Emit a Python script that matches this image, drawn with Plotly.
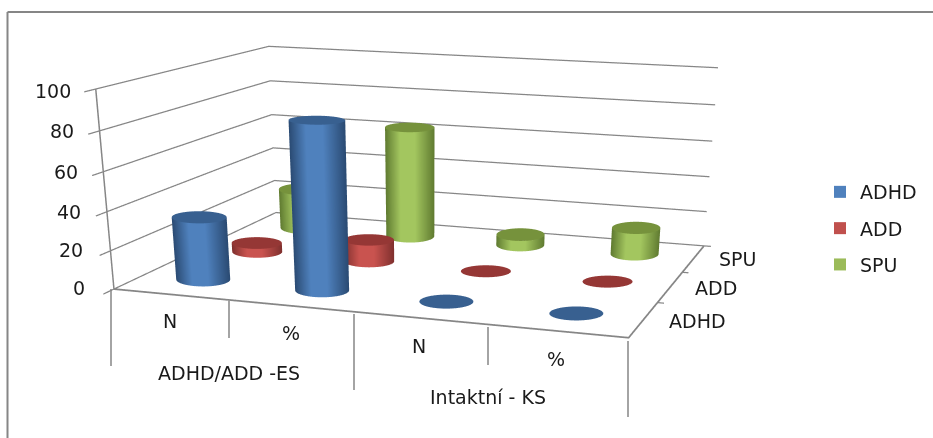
import numpy as np
import plotly.graph_objects as go

categories = ["N", "%", "N", "%"]
groups = ["ADHD/ADD -ES", "Intaktní - KS"]
series_names = ["ADHD", "ADD", "SPU"]
adhd = [33, 86, 0, 0]
add = [5, 12, 0, 0]
spu = [23, 63, 6, 15]
z_ticks = [0, 20, 40, 60, 80, 100]

W, H = 933, 1300

# camera of the 3D box, in box units (box centred on the origin, height 1)
eye = np.array([2.841, -8.355, 1.562])
cen = np.array([-10.961, 36.318, -22.143])
up = np.array([-12.611, 39.995, 1.0])
box = np.array([2.763, 2.112, 1.0])

xr = np.array([-0.5, 3.5]); yr = np.array([-0.5, 2.5]); zr = np.array([0., 100.])
xR = [-0.55, 3.72]; yR = [-0.72, 2.55]; zR = [-1, 101]
def world(x, y, z):
    return np.array([(x-xr[0])/(xr[1]-xr[0])-.5, (y-yr[0])/(yr[1]-yr[0])-.5, (z-zr[0])/(zr[1]-zr[0])-.5])*box
o = world((xR[0]+xR[1])/2, (yR[0]+yR[1])/2, (zR[0]+zR[1])/2)
asp = box*np.array([(xR[1]-xR[0])/4, (yR[1]-yR[0])/3, (zR[1]-zR[0])/100])
ve = eye-o; vc = cen-o

f = cen-eye; f = f/np.linalg.norm(f)
r = np.cross(f, up); r = r/np.linalg.norm(r)
t = np.cross(r, f)
S = H/2/np.tan(np.pi/8)
def screen(x, y, z):
    d = world(x, y, z)-eye
    return np.array([S*(d@r)/(d@f), -S*(d@t)/(d@f)])

fig = go.Figure()
GRID = "#868686"
def line(xs, ys, zs, w=2.5):
    fig.add_trace(go.Scatter3d(x=xs, y=ys, z=zs, mode="lines", line=dict(color=GRID, width=w), showlegend=False, hoverinfo="skip"))
for z in z_ticks:
    line([3.5, -0.5, -0.5, -0.5], [2.5, 2.5, -0.5, -0.66], [z]*4)
line([-0.5, 3.5, 3.5], [-0.5, -0.5, 2.5], [0, 0, 0], 3.5)
line([-0.5, -0.5], [-0.5, -0.5], [0, 100], 3)
for y in (0.5, 1.5):
    line([3.5, 3.55], [y, y], [0, 0])
line([3.5, 3.56], [2.5, 2.5], [0, 0])

colors = {"ADHD": ("#2a4a72", "#4f81bd", "#386090", "#4f81bd"),
          "ADD": ("#7f302e", "#c9534f", "#953735", "#c0504d"),
          "SPU": ("#5f7a30", "#a3c65f", "#76923c", "#9bbb59")}
phi = np.linspace(0, 2*np.pi, 73)
A_PX = {"ADHD": 27, "ADD": 25, "SPU": 24}
B_PX = {"ADHD": 7, "ADD": 6, "SPU": 6.5}
LIT = dict(ambient=1, diffuse=0, specular=0, roughness=1, fresnel=0)
for sidx, (name, vals) in enumerate(zip(series_names, [adhd, add, spu])):
    dark, light, cap, swatch = colors[name]
    scale = [[0, dark], [0.3, light], [0.6, light], [1, dark]]
    fig.add_trace(go.Scatter3d(x=[None], y=[None], z=[None], mode="markers", name=name, legendgroup=name,
        marker=dict(symbol="square", size=12, color=swatch), hoverinfo="skip"))
    for i, v in enumerate(vals):
        # disc footprint: data offsets that draw a level ellipse
        base = screen(i, sidx, 0)
        M = np.c_[(screen(i+.01, sidx, 0)-base)/.01, (screen(i, sidx+.01, 0)-base)/.01]
        off = np.linalg.solve(M, np.vstack([A_PX[name]*np.cos(phi), B_PX[name]*np.sin(phi)]))
        if v > 0:
            X = i+np.outer(off[0], [1, 1]); Y = sidx+np.outer(off[1], [1, 1]); Z = np.outer(np.ones_like(phi), [0, v])
            fig.add_trace(go.Surface(x=X, y=Y, z=Z, surfacecolor=np.outer(np.cos(phi), [1, 1]), colorscale=scale, cmin=-1, cmax=1, showscale=False,
                lighting=LIT, hoverinfo="skip", legendgroup=name, showlegend=False))
        X = i+np.outer(off[0], [0, 1]); Y = sidx+np.outer(off[1], [0, 1]); Z = np.full_like(X, v, dtype=float)
        fig.add_trace(go.Surface(x=X, y=Y, z=Z, surfacecolor=np.zeros_like(X), colorscale=[[0, cap], [1, cap]], showscale=False,
            lighting=LIT, hoverinfo="skip", legendgroup=name, showlegend=False))

def py(y): return 1-y/H
def px(x): return x/W
shapes = [dict(type="line", xref="paper", yref="paper", x0=px(7.5), x1=1, y0=py(12), y1=py(12), line=dict(color=GRID, width=2)),
          dict(type="line", xref="paper", yref="paper", x0=px(7.5), x1=px(7.5), y0=py(12), y1=py(438), line=dict(color=GRID, width=2))]
for x, a, b in [(111, 289, 366), (229, 301, 338), (354, 314, 390), (488, 327, 365), (628, 341, 417)]:
    shapes.append(dict(type="line", xref="paper", yref="paper", x0=px(x), x1=px(x), y0=py(a), y1=py(b), line=dict(color=GRID, width=1.5)))
FONT = dict(family="DejaVu Sans", size=19, color="#1a1a1a")
ann = []
def text(s, x, y, anchor="center"):
    ann.append(dict(text=s, xref="paper", yref="paper", x=px(x), y=py(y), xanchor=anchor, yanchor="middle", showarrow=False, font=FONT))
for s, x, y in zip(categories, [170, 291, 419, 556], [321, 333, 346, 359]): text(s, x, y)
text(groups[0], 229, 373); text(groups[1], 488, 397)
for s, x, y in zip(z_ticks, [87, 85, 83, 80, 76, 73], [288, 250, 212, 172, 131, 91]): text(str(s), x, y, "right")
for s, x, y in zip(series_names, [697, 716, 737], [321, 288, 259]): text(s, x, y)
fig.update_layout(width=W, height=H, autosize=False, margin=dict(l=0, r=0, t=0, b=0), paper_bgcolor="white",
    shapes=shapes, annotations=ann,
    legend=dict(x=px(820), y=py(173), xanchor="left", yanchor="top", font=FONT, traceorder="grouped", tracegroupgap=8.6, bgcolor="rgba(0,0,0,0)"),
    scene=dict(domain=dict(x=[0, 1], y=[0, 1]),
        xaxis=dict(visible=False, range=xR), yaxis=dict(visible=False, range=yR), zaxis=dict(visible=False, range=zR),
        aspectmode="manual", aspectratio=dict(x=asp[0], y=asp[1], z=asp[2]),
        camera=dict(eye=dict(x=ve[0], y=ve[1], z=ve[2]), center=dict(x=vc[0], y=vc[1], z=vc[2]), up=dict(x=up[0], y=up[1], z=up[2]), projection=dict(type="perspective"))))
fig.write_html("out.html", config=dict(displayModeBar=False),
    post_script="document.documentElement.style.overflow='hidden';document.body.style.overflow='hidden';document.body.style.margin='0';")
